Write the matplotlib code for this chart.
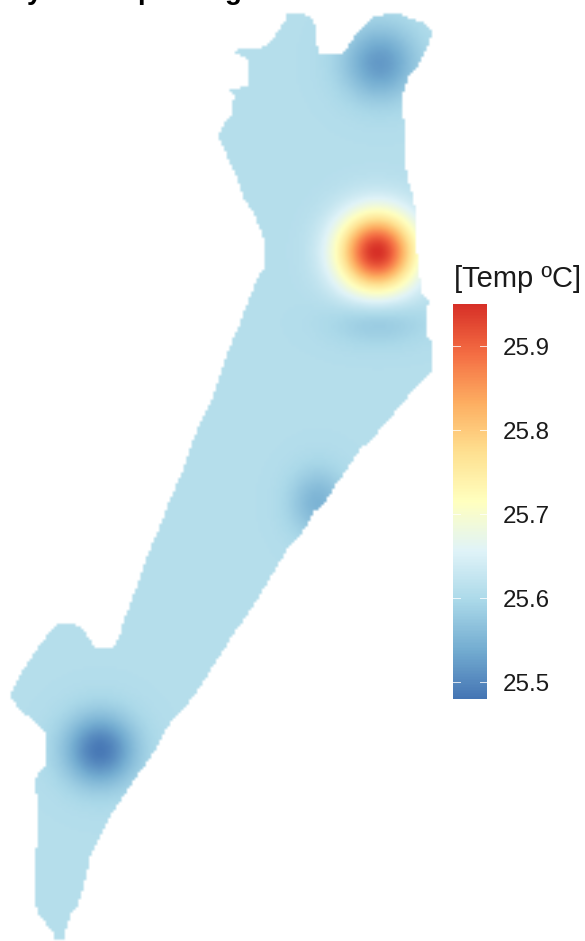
import numpy as np
import matplotlib
matplotlib.use("Agg")
import matplotlib.pyplot as plt
from matplotlib.path import Path
from matplotlib.colors import LinearSegmentedColormap, Normalize
from matplotlib.cm import ScalarMappable

plt.rcParams['font.family'] = ['Liberation Sans', 'DejaVu Sans']

# Region outline (map units: image pixels)
region_x = [288,302,310,315,315,318,320,344,350,360,372,385,398,410,422,433,429,423,417,408,405,402,402,405,405,
            408,409,413,413,417,417,419,419,422,422,427,430,427,427,432,433,430,417,400,383,370,362,350,337,325,
            313,310,298,290,273,253,233,215,203,188,175,167,157,140,123,110,98,90,87,83,78,70,68,66,66,55,53,43,
            38,35,35,38,38,35,35,47,47,35,20,10,20,30,45,58,72,82,88,95,113,119,125,133,145,153,162,170,182,192,
            203,212,218,228,240,250,258,265,265,262,252,243,238,230,222,218,223,232,234,227,247,248,240,234,240,
            262,270,287]
region_y = [13,13,17,24,43,47,53,53,42,30,18,14,13,18,22,33,43,57,68,78,90,95,118,120,168,
            170,183,197,200,217,253,257,277,283,293,298,305,306,335,343,367,374,385,407,425,443,447,465,483,502,
            513,520,538,545,573,607,635,663,683,703,717,728,747,772,797,817,840,857,873,890,905,915,925,928,940,940,933,920,
            913,900,853,843,793,792,778,765,733,722,710,695,675,660,638,623,624,628,637,648,648,637,618,597,563,542,522,500,472,442,
            418,400,380,352,323,297,277,267,243,233,210,197,180,163,143,137,125,115,95,89,87,60,55,52,49,
            48,43,17]

# Temperature field: background level and local anomalies
background_temp = 25.609
spot_x = [377, 380, 378, 318, 100]
spot_y = [252, 63, 322, 503, 750]
spot_delta = [0.341, -0.09, -0.036, -0.06, -0.124]
spot_sx = [27, 26, 33, 20, 25]
spot_sy = [27, 26, 16, 24, 25]

# Legend
legend_title = "[Temp ºC]"
legend_ticks = [25.5, 25.6, 25.7, 25.8, 25.9]
temp_min, temp_max = 25.48, 25.95
palette = ["#4575b4", "#74add1", "#abd9e9", "#e0f3f8", "#ffffbf",
           "#fee090", "#fdae61", "#f46d43", "#d73027"]

# Title text is cut off by the top edge: only descenders remain
title_glyphs = ["y", "p", "g"]
title_glyph_x = [35, 146, 233]

W, H = 585, 941
fig = plt.figure(figsize=(W / 100, H / 100), dpi=100, facecolor="white")
ax = fig.add_axes([0, 0, 1, 1])
ax.set_xlim(0, W)
ax.set_ylim(H, 0)
ax.axis("off")

cell = 2.7
gx = np.arange(cell / 2, W, cell)
gy = np.arange(cell / 2, H, cell)
X, Y = np.meshgrid(gx, gy)
Z = np.full(X.shape, background_temp)
for sx0, sy0, d, sx, sy in zip(spot_x, spot_y, spot_delta, spot_sx, spot_sy):
    Z += d * np.exp(-((X - sx0) ** 2 / (2 * sx ** 2) + (Y - sy0) ** 2 / (2 * sy ** 2)))

outline = Path(np.column_stack([region_x, region_y]))
inside = outline.contains_points(np.column_stack([X.ravel(), Y.ravel()])).reshape(X.shape)

cmap = LinearSegmentedColormap.from_list("temp", palette, N=256)
norm = Normalize(temp_min, temp_max)
rgba = cmap(norm(Z))
rgba[..., 3] = inside.astype(float)
ax.imshow(rgba, origin="upper", aspect="auto",
          extent=(0, gx[-1] + cell / 2, gy[-1] + cell / 2, 0),
          interpolation="bilinear")
ax.set_xlim(0, W)
ax.set_ylim(H, 0)

# Legend colour bar
bar_left, bar_right, bar_top, bar_bottom = 453, 487, 304, 699
cax = fig.add_axes([bar_left / W, 1 - bar_bottom / H,
                    (bar_right - bar_left) / W, (bar_bottom - bar_top) / H])
cb = fig.colorbar(ScalarMappable(norm=norm, cmap=cmap), cax=cax)
cb.outline.set_visible(False)
cb.set_ticks(legend_ticks)
cb.set_ticklabels([f"{t:.1f}" for t in legend_ticks])
cax.tick_params(axis="y", length=0, pad=11.5, labelsize=17.4, labelcolor="#1a1a1a")
for t in legend_ticks:
    cax.plot([0, 0.2], [t, t], color="white", lw=0.7, alpha=0.8, transform=cax.get_yaxis_transform())
    cax.plot([0.8, 1], [t, t], color="white", lw=0.7, alpha=0.8, transform=cax.get_yaxis_transform())

ax.text(454, 287, legend_title, fontsize=21, color="#1a1a1a", ha="left", va="baseline")

for g, gxpos in zip(title_glyphs, title_glyph_x):
    ax.text(gxpos, -1, g, fontsize=20, fontweight="bold", color="black",
            ha="center", va="baseline", clip_on=False)

fig.savefig("out.png", dpi=100, facecolor="white")
